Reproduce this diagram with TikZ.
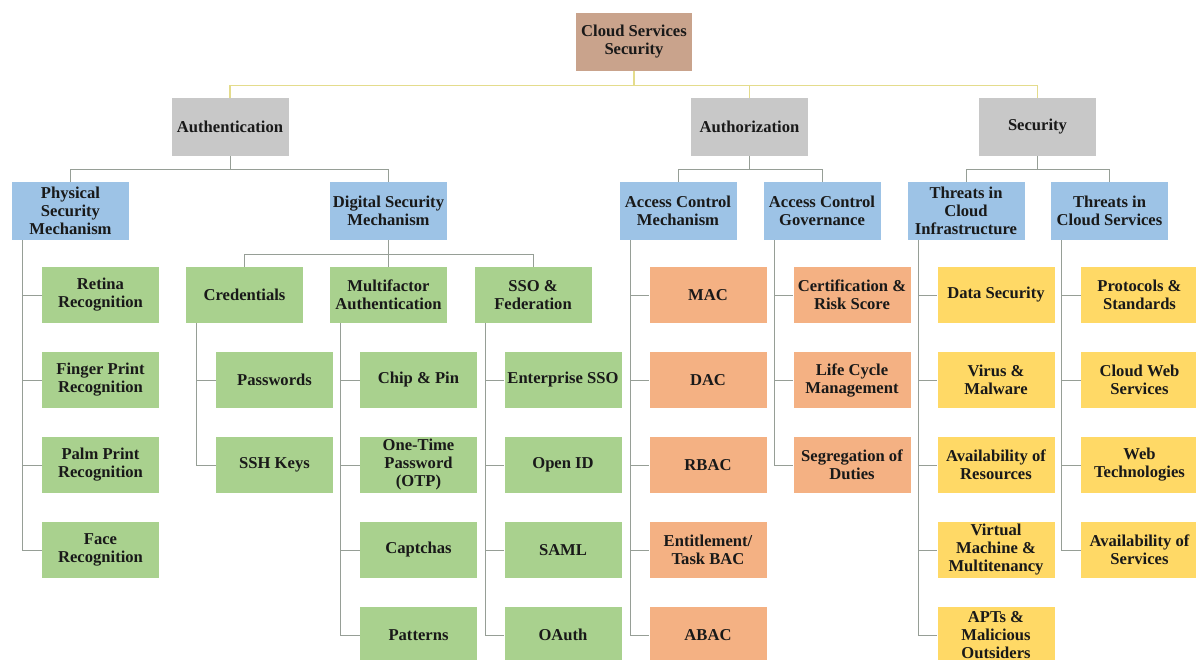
\documentclass[tikz,border=0pt]{standalone}
\usepackage{fontspec}
\setmainfont{Liberation Serif}
\definecolor{rootc}{RGB}{201,163,140}
\definecolor{grayc}{RGB}{200,200,200}
\definecolor{bluec}{RGB}{157,195,230}
\definecolor{greenc}{RGB}{169,209,142}
\definecolor{orangec}{RGB}{244,177,131}
\definecolor{yellowc}{RGB}{255,217,102}
\definecolor{linec}{RGB}{150,158,150}
\definecolor{rootlinec}{RGB}{228,220,140}
\begin{document}
\begin{tikzpicture}[x=1pt, y=-1pt]
        \tikzstyle{box}=[shape=rectangle, align=center, inner sep=1pt, minimum width=117pt, text=black!90, font=\fontsize{16.6}{18}\selectfont\bfseries]
        \tikzstyle{topbox}=[box, fill=rootc, minimum width=116pt, minimum height=58pt]
        \tikzstyle{mainbox}=[box, fill=grayc, minimum height=58pt]
        \tikzstyle{subbox}=[box, fill=bluec, minimum height=58pt]
        \tikzstyle{leaf}=[box, minimum height=56pt]
        \tikzstyle{tree}=[draw=linec, line width=1pt]
        \tikzstyle{rootline}=[draw=rootlinec, line width=1.3pt]

        \useasboundingbox (0,0) rectangle (1196,660);

        \node[topbox](root) at (634,42){Cloud Services\\Security};

        \node[mainbox](auth) at (230,127){Authentication};
        \node[mainbox](authz) at (749.5,127){Authorization};
        \node[mainbox](sec) at (1037.5,127){Security};

        \node[subbox](phys) at (70.5,211){Physical\\Security\\Mechanism};
        \node[subbox](dsm) at (388.5,211){Digital Security\\Mechanism};
        \node[subbox](acm) at (678,211){Access Control\\Mechanism};
        \node[subbox](acg) at (822,211){Access Control\\Governance};
        \node[subbox](tci) at (966,211){Threats in\\Cloud\\Infrastructure};
        \node[subbox](tcs) at (1109.5,211){Threats in\\Cloud Services};

        % physical
        \node[leaf, fill=greenc](retina) at (100.5,295){Retina\\Recognition};
        \node[leaf, fill=greenc](finger) at (100.5,380){Finger Print\\Recognition};
        \node[leaf, fill=greenc](palm) at (100.5,465){Palm Print\\Recognition};
        \node[leaf, fill=greenc](face) at (100.5,550){Face\\Recognition};

        % digital
        \node[leaf, fill=greenc](cred) at (244.5,295){Credentials};
        \node[leaf, fill=greenc](mfa) at (388.5,295){Multifactor\\Authentication};
        \node[leaf, fill=greenc](sso) at (533,295){SSO \&\\Federation};
        \node[leaf, fill=greenc](pwd) at (274.5,380){Passwords};
        \node[leaf, fill=greenc](ssh) at (274.5,465){SSH Keys};
        \node[leaf, fill=greenc](chip) at (418.5,380){Chip \& Pin};
        \node[leaf, fill=greenc](otp) at (418.5,465){One-Time\\Password\\(OTP)};
        \node[leaf, fill=greenc](captcha) at (418.5,550){Captchas};
        \node[leaf, fill=greenc](pattern) at (418.5,635){Patterns};
        \node[leaf, fill=greenc](esso) at (563,380){Enterprise SSO};
        \node[leaf, fill=greenc](openid) at (563,465){Open ID};
        \node[leaf, fill=greenc](saml) at (563,550){SAML};
        \node[leaf, fill=greenc](oauth) at (563,635){OAuth};

        % authorization
        \node[leaf, fill=orangec](mac) at (708,295){MAC};
        \node[leaf, fill=orangec](dac) at (708,380){DAC};
        \node[leaf, fill=orangec](rbac) at (708,465){RBAC};
        \node[leaf, fill=orangec](tbac) at (708,550){Entitlement/\\Task BAC};
        \node[leaf, fill=orangec](abac) at (708,635){ABAC};
        \node[leaf, fill=orangec](cert) at (852,295){Certification \&\\Risk Score};
        \node[leaf, fill=orangec](life) at (852,380){Life Cycle\\Management};
        \node[leaf, fill=orangec](duty) at (852,465){Segregation of\\Duties};

        % security
        \node[leaf, fill=yellowc](data) at (996,295){Data Security};
        \node[leaf, fill=yellowc](virus) at (996,380){Virus \&\\Malware};
        \node[leaf, fill=yellowc](avres) at (996,465){Availability of\\Resources};
        \node[leaf, fill=yellowc](vm) at (996,550){Virtual\\Machine \&\\Multitenancy};
        \node[leaf, fill=yellowc](apt) at (996,635){APTs \&\\Malicious\\Outsiders};
        \node[leaf, fill=yellowc](proto) at (1139.5,295){Protocols \&\\Standards};
        \node[leaf, fill=yellowc](web) at (1139.5,380){Cloud Web\\Services};
        \node[leaf, fill=yellowc](webtech) at (1139.5,465){Web\\Technologies};
        \node[leaf, fill=yellowc](avsrv) at (1139.5,550){Availability of\\Services};

        \draw[rootline] (root.south) -- ++(0,14) -| (auth.north);
        \draw[rootline] (root.south) -- ++(0,14) -| (authz.north);
        \draw[rootline] (root.south) -- ++(0,14) -| (sec.north);

        \draw[tree] (auth.south) -- ++(0,13) -| (phys.north);
        \draw[tree] (auth.south) -- ++(0,13) -| (dsm.north);
        \draw[tree] (authz.south) -- ++(0,13) -| (acm.north);
        \draw[tree] (authz.south) -- ++(0,13) -| (acg.north);
        \draw[tree] (sec.south) -- ++(0,13) -| (tci.north);
        \draw[tree] (sec.south) -- ++(0,13) -| (tcs.north);

        \draw[tree] (dsm.south) -- ++(0,14) -| (cred.north);
        \draw[tree] (dsm.south) -- (mfa.north);
        \draw[tree] (dsm.south) -- ++(0,14) -| (sso.north);

        \draw[tree] ([xshift=11pt]phys.south west) |- (retina.west);
        \draw[tree] ([xshift=11pt]phys.south west) |- (finger.west);
        \draw[tree] ([xshift=11pt]phys.south west) |- (palm.west);
        \draw[tree] ([xshift=11pt]phys.south west) |- (face.west);

        \draw[tree] ([xshift=11pt]cred.south west) |- (pwd.west);
        \draw[tree] ([xshift=11pt]cred.south west) |- (ssh.west);

        \draw[tree] ([xshift=11pt]mfa.south west) |- (chip.west);
        \draw[tree] ([xshift=11pt]mfa.south west) |- (otp.west);
        \draw[tree] ([xshift=11pt]mfa.south west) |- (captcha.west);
        \draw[tree] ([xshift=11pt]mfa.south west) |- (pattern.west);

        \draw[tree] ([xshift=11pt]sso.south west) |- (esso.west);
        \draw[tree] ([xshift=11pt]sso.south west) |- (openid.west);
        \draw[tree] ([xshift=11pt]sso.south west) |- (saml.west);
        \draw[tree] ([xshift=11pt]sso.south west) |- (oauth.west);

        \draw[tree] ([xshift=11pt]acm.south west) |- (mac.west);
        \draw[tree] ([xshift=11pt]acm.south west) |- (dac.west);
        \draw[tree] ([xshift=11pt]acm.south west) |- (rbac.west);
        \draw[tree] ([xshift=11pt]acm.south west) |- (tbac.west);
        \draw[tree] ([xshift=11pt]acm.south west) |- (abac.west);

        \draw[tree] ([xshift=11pt]acg.south west) |- (cert.west);
        \draw[tree] ([xshift=11pt]acg.south west) |- (life.west);
        \draw[tree] ([xshift=11pt]acg.south west) |- (duty.west);

        \draw[tree] ([xshift=11pt]tci.south west) |- (data.west);
        \draw[tree] ([xshift=11pt]tci.south west) |- (virus.west);
        \draw[tree] ([xshift=11pt]tci.south west) |- (avres.west);
        \draw[tree] ([xshift=11pt]tci.south west) |- (vm.west);
        \draw[tree] ([xshift=11pt]tci.south west) |- (apt.west);

        \draw[tree] ([xshift=11pt]tcs.south west) |- (proto.west);
        \draw[tree] ([xshift=11pt]tcs.south west) |- (web.west);
        \draw[tree] ([xshift=11pt]tcs.south west) |- (webtech.west);
        \draw[tree] ([xshift=11pt]tcs.south west) |- (avsrv.west);

\end{tikzpicture}
\end{document}
